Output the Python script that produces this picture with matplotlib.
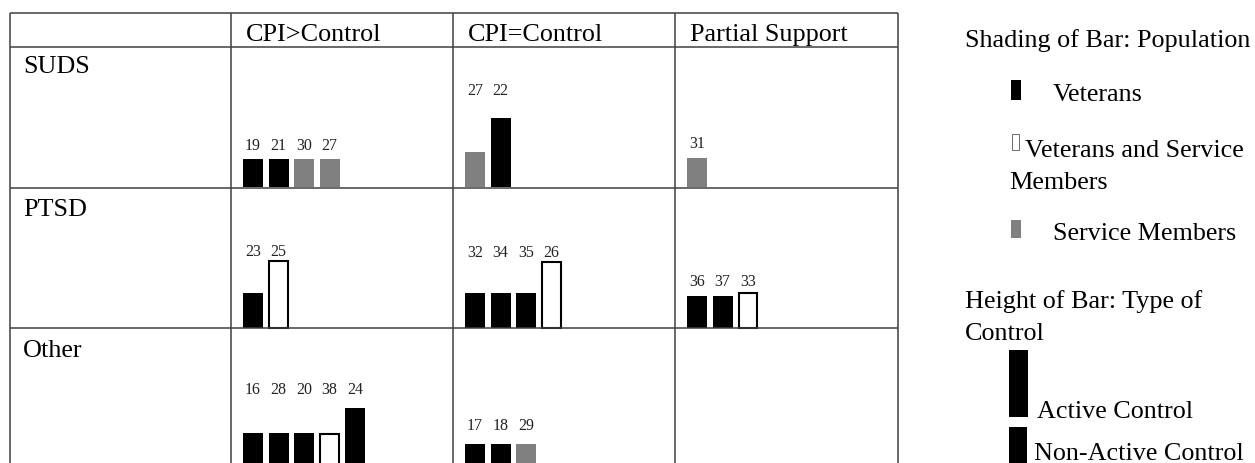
import matplotlib
matplotlib.use('Agg')
import matplotlib.pyplot as plt
from matplotlib.patches import Rectangle

#-------------------------------------------------------------------------------
# data
#-------------------------------------------------------------------------------
row_labels = ['SUDS', 'PTSD', 'Other']
col_labels = ['CPI>Control', 'CPI=Control', 'Partial Support']

# population: V = Veterans, B = Veterans and Service Members, S = Service Members
# bar heights in pixels as drawn in the table cells
suds_gt_ids = [19, 21, 30, 27]
suds_gt_pop = ['V', 'V', 'S', 'S']
suds_gt_h = [28, 28, 28, 28]

suds_eq_ids = [27, 22]
suds_eq_pop = ['S', 'V']
suds_eq_h = [35, 69]

suds_ps_ids = [31]
suds_ps_pop = ['S']
suds_ps_h = [29]

ptsd_gt_ids = [23, 25]
ptsd_gt_pop = ['V', 'B']
ptsd_gt_h = [34.5, 66.5]

ptsd_eq_ids = [32, 34, 35, 26]
ptsd_eq_pop = ['V', 'V', 'V', 'B']
ptsd_eq_h = [34.5, 34.5, 34.5, 65.5]

ptsd_ps_ids = [36, 37, 33]
ptsd_ps_pop = ['V', 'V', 'B']
ptsd_ps_h = [31.5, 31.5, 34.5]

other_gt_ids = [16, 28, 20, 38, 24]
other_gt_pop = ['V', 'V', 'V', 'B', 'V']
other_gt_h = [36, 36, 36, 35, 61]

other_eq_ids = [17, 18, 29]
other_eq_pop = ['V', 'V', 'S']
other_eq_h = [25, 25, 25]

#-------------------------------------------------------------------------------
# layout (pixels)
#-------------------------------------------------------------------------------
col_x = [10, 231, 453, 675, 898]
row_y = [14, 48, 189, 329, 480]
baselines = [188, 328.5, 470]
pitch = 25.5
bw = 20

# (row, data column, ids, population, heights, label baseline)
cells = [
    (0, 0, suds_gt_ids, suds_gt_pop, suds_gt_h, 150),
    (0, 1, suds_eq_ids, suds_eq_pop, suds_eq_h, 95),
    (0, 2, suds_ps_ids, suds_ps_pop, suds_ps_h, 148),
    (1, 0, ptsd_gt_ids, ptsd_gt_pop, ptsd_gt_h, 256.5),
    (1, 1, ptsd_eq_ids, ptsd_eq_pop, ptsd_eq_h, 257),
    (1, 2, ptsd_ps_ids, ptsd_ps_pop, ptsd_ps_h, 286),
    (2, 0, other_gt_ids, other_gt_pop, other_gt_h, 394.5),
    (2, 1, other_eq_ids, other_eq_pop, other_eq_h, 430),
]

fill = {'V': 'black', 'B': 'white', 'S': '#808080'}
serif = 'Liberation Serif'
big = 18.8
small = 11.5
line_col = '#404040'

fig = plt.figure(figsize=(12.55, 4.64), dpi=100)
ax = fig.add_axes([0, 0, 1, 1])
ax.set_xlim(0, 1255)
ax.set_ylim(464, 0)
ax.axis('off')

# table grid
for y in row_y[:-1]:
    ax.plot([col_x[0], col_x[-1]], [y, y], color=line_col, lw=1.1, solid_capstyle='butt')
for x in col_x:
    ax.plot([x, x], [row_y[0], row_y[-1]], color=line_col, lw=1.1, solid_capstyle='butt')

# header and row labels
head_x = [246, 468, 690]
for x, t in zip(head_x, col_labels):
    ax.text(x, 41, t, fontsize=big, family=serif, va='baseline', ha='left')
row_base = [73, 216, 357]
for y, t in zip(row_base, row_labels):
    ax.text(23, y, t, fontsize=big, family=serif, va='baseline', ha='left')

# bars in each cell
for r, c, ids, pops, hs, lab_y in cells:
    x0 = col_x[c + 1] + 12
    xs = [x0 + i * pitch + bw / 2 for i in range(len(ids))]
    for x, p, h, sid in zip(xs, pops, hs, ids):
        if p == 'B':
            ax.bar(x, -h, width=bw - 1.5, bottom=baselines[r], color='white',
                   edgecolor='black', linewidth=1.5)
        else:
            ax.bar(x, -h, width=bw, bottom=baselines[r], color=fill[p], linewidth=0)
        ax.text(x, lab_y, str(sid), fontsize=small, family=serif,
                ha='center', va='baseline', color='#222222')

# legend
ax.text(965, 47, 'Shading of Bar: Population', fontsize=big, family=serif, va='baseline')
ax.add_patch(Rectangle((1011, 81), 10, 20, facecolor='black', lw=0))
ax.text(1053, 101, 'Veterans', fontsize=big, family=serif, va='baseline')
ax.add_patch(Rectangle((1011.5, 135), 7, 16, facecolor='white', edgecolor='#555555', lw=0.6))
ax.text(1025, 157, 'Veterans and Service', fontsize=big, family=serif, va='baseline')
ax.text(1009, 189, 'Members', fontsize=big, family=serif, va='baseline')
ax.add_patch(Rectangle((1011, 221), 10, 18, facecolor='#808080', lw=0))
ax.text(1053, 240, 'Service Members', fontsize=big, family=serif, va='baseline')

ax.text(965, 308, 'Height of Bar: Type of', fontsize=big, family=serif, va='baseline')
ax.text(965, 340, 'Control', fontsize=big, family=serif, va='baseline')
ax.add_patch(Rectangle((1009, 351), 19, 67, facecolor='black', lw=0))
ax.text(1037, 418, 'Active Control', fontsize=big, family=serif, va='baseline')
ax.add_patch(Rectangle((1009, 428), 18, 45, facecolor='black', lw=0))
ax.text(1034, 460, 'Non-Active Control', fontsize=big, family=serif, va='baseline')

plt.savefig('out.png', dpi=100)
